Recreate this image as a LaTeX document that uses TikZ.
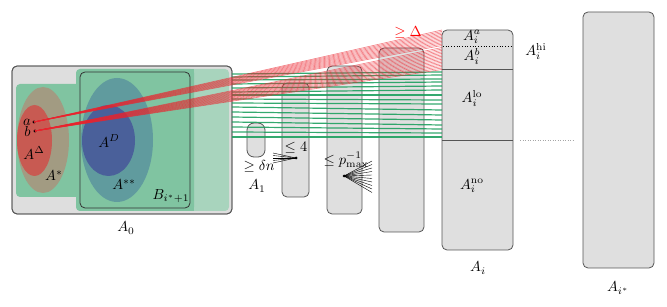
\documentclass[tikz,border=0pt]{standalone}
\usepackage{amsmath,amssymb}
\definecolor{agray}{RGB}{222,222,222}
\definecolor{bgray}{RGB}{223,223,223}
\definecolor{edgec}{RGB}{85,85,85}
\definecolor{mgreen}{RGB}{128,196,161}
\definecolor{lgreen}{RGB}{168,212,189}
\definecolor{astarc}{RGB}{162,155,130}
\definecolor{adeltac}{RGB}{200,90,82}
\definecolor{asscol}{RGB}{96,155,158}
\definecolor{adcol}{RGB}{74,96,154}
\definecolor{glines}{RGB}{30,160,95}
\definecolor{rlines}{RGB}{235,35,45}
\tikzset{
  lbl/.style={scale=1.45, inner sep=0pt},
  boxst/.style={draw=edgec, fill=bgray, line width=0.8pt, rounded corners=5pt, inner sep=0pt},
  gline/.style={glines, opacity=0.9, line width=1.2pt},
  rline/.style={rlines, opacity=0.6, line width=0.6pt},
  fanline/.style={black, line width=0.4pt},
  dotst/.style={circle, fill=black, inner sep=0pt, minimum size=3.4pt}
}
\begin{document}
\begin{tikzpicture}[x=1pt,y=-1pt]
\useasboundingbox (0,0) rectangle (667,307);
% ---------- A0 ----------
\node[boxst, fill=agray, minimum width=220pt, minimum height=148pt] (A0) at (122,140) {};
\fill[lgreen, rounded corners=4pt] (76,69) rectangle (229,211);
\fill[mgreen, rounded corners=4pt] (76,69) rectangle (194,211);
\fill[mgreen] (185,69) rectangle (193.5,211);
\fill[mgreen, rounded corners=4pt] (16,84) rectangle (82,197);
\fill[astarc] (43,140) ellipse [x radius=26pt, y radius=53pt];
\fill[adeltac] (34.5,140.5) ellipse [x radius=17.5pt, y radius=35.5pt];
\fill[asscol] (117,140) ellipse [x radius=36pt, y radius=62pt];
\fill[adcol] (108.5,140.5) ellipse [x radius=26.5pt, y radius=35.5pt];
\draw[black!80, line width=0.8pt, rounded corners=5pt] (80,72) rectangle (190,208);
\draw[edgec, line width=0.8pt, rounded corners=5pt] (12,66) rectangle (232,214);
% ---------- other boxes ----------
\node[boxst, rounded corners=7pt, minimum width=18pt, minimum height=34pt] (B1) at (256,140) {};
\node[boxst, minimum width=27pt, minimum height=114pt] (B2) at (295.5,140) {};
\node[boxst, minimum width=35pt, minimum height=148pt] (B3) at (344.5,140) {};
\node[boxst, minimum width=45pt, minimum height=184pt] (B4) at (401.5,140) {};
\node[boxst, minimum width=71pt, minimum height=220pt] (Ai) at (477.5,140) {};
\node[boxst, minimum width=71pt, minimum height=256pt] (Aistar) at (618.5,140) {};
\draw[edgec, line width=0.8pt] (442,69) -- (513,69);
\draw[edgec, line width=0.8pt] (442,140) -- (513,140);
\draw[black, line width=0.7pt, dotted] (443,46) -- (512,46);
\draw[gray!70, line width=0.5pt, dotted] (520,140) -- (573,140);
% ---------- green lines ----------
\foreach \yl/\yr in {74/72, 77/75, 80/79, 84/82, 88/86, 92/90, 95/95, 99/100, 103/104, 107/110, 112/115, 117/120, 122/125, 127/129, 132/133, 137/137}{
  \draw[gline] (232,\yl) -- (442,\yr);
}
% ---------- red fans ----------
\node[dotst] (a) at (34,122) {};
\node[dotst] (b) at (35,131) {};
\foreach \t in {0,...,11}{
  \draw[rline] (a.center) -- (442,{30+\t*15.5/11});
}
\foreach \t in {0,...,15}{
  \draw[rline] (b.center) -- (442,{47.5+\t*22/15});
}
% ---------- black fans ----------
\node[dotst, minimum size=3pt] (f2) at (296,158) {};
\foreach \t in {0,...,4}{
  \draw[fanline] (f2.center) -- (273,{153+\t*2.5});
}
\node[dotst, minimum size=3pt] (f3) at (344,176) {};
\foreach \t in {0,...,9}{
  \draw[fanline] (f3.center) -- (372,{161+\t*3.5});
}
% ---------- labels ----------
\node[lbl, anchor=east] at (31,122) {$a$};
\node[lbl, anchor=east] at (31,131) {$b$};
\node[lbl] at (34,153) {$A^{\Delta}$};
\node[lbl] at (54,176) {$A^{*}$};
\node[lbl] at (109,141) {$A^{D}$};
\node[lbl] at (124,185) {$A^{**}$};
\node[lbl] at (171,196) {$B_{i^*+1}$};
\node[lbl] at (126,228) {$A_0$};
\node[lbl] at (259,166) {$\geq \delta n$};
\node[lbl] at (257,186) {$A_1$};
\node[lbl] at (296,148) {$\leq 4$};
\node[lbl] at (346,160) {$\leq p_{\max}^{-1}$};
\node[lbl, text=red] at (408,33) {$\geq \Delta$};
\node[lbl] at (472,37) {$A_i^a$};
\node[lbl] at (472,56) {$A_i^b$};
\node[lbl] at (472,98) {$A_i^{\mathrm{lo}}$};
\node[lbl] at (472,186) {$A_i^{\mathrm{no}}$};
\node[lbl] at (536,51) {$A_i^{\mathrm{hi}}$};
\node[lbl] at (478,268) {$A_i$};
\node[lbl] at (618,288) {$A_{i^*}$};
\end{tikzpicture}
\end{document}
